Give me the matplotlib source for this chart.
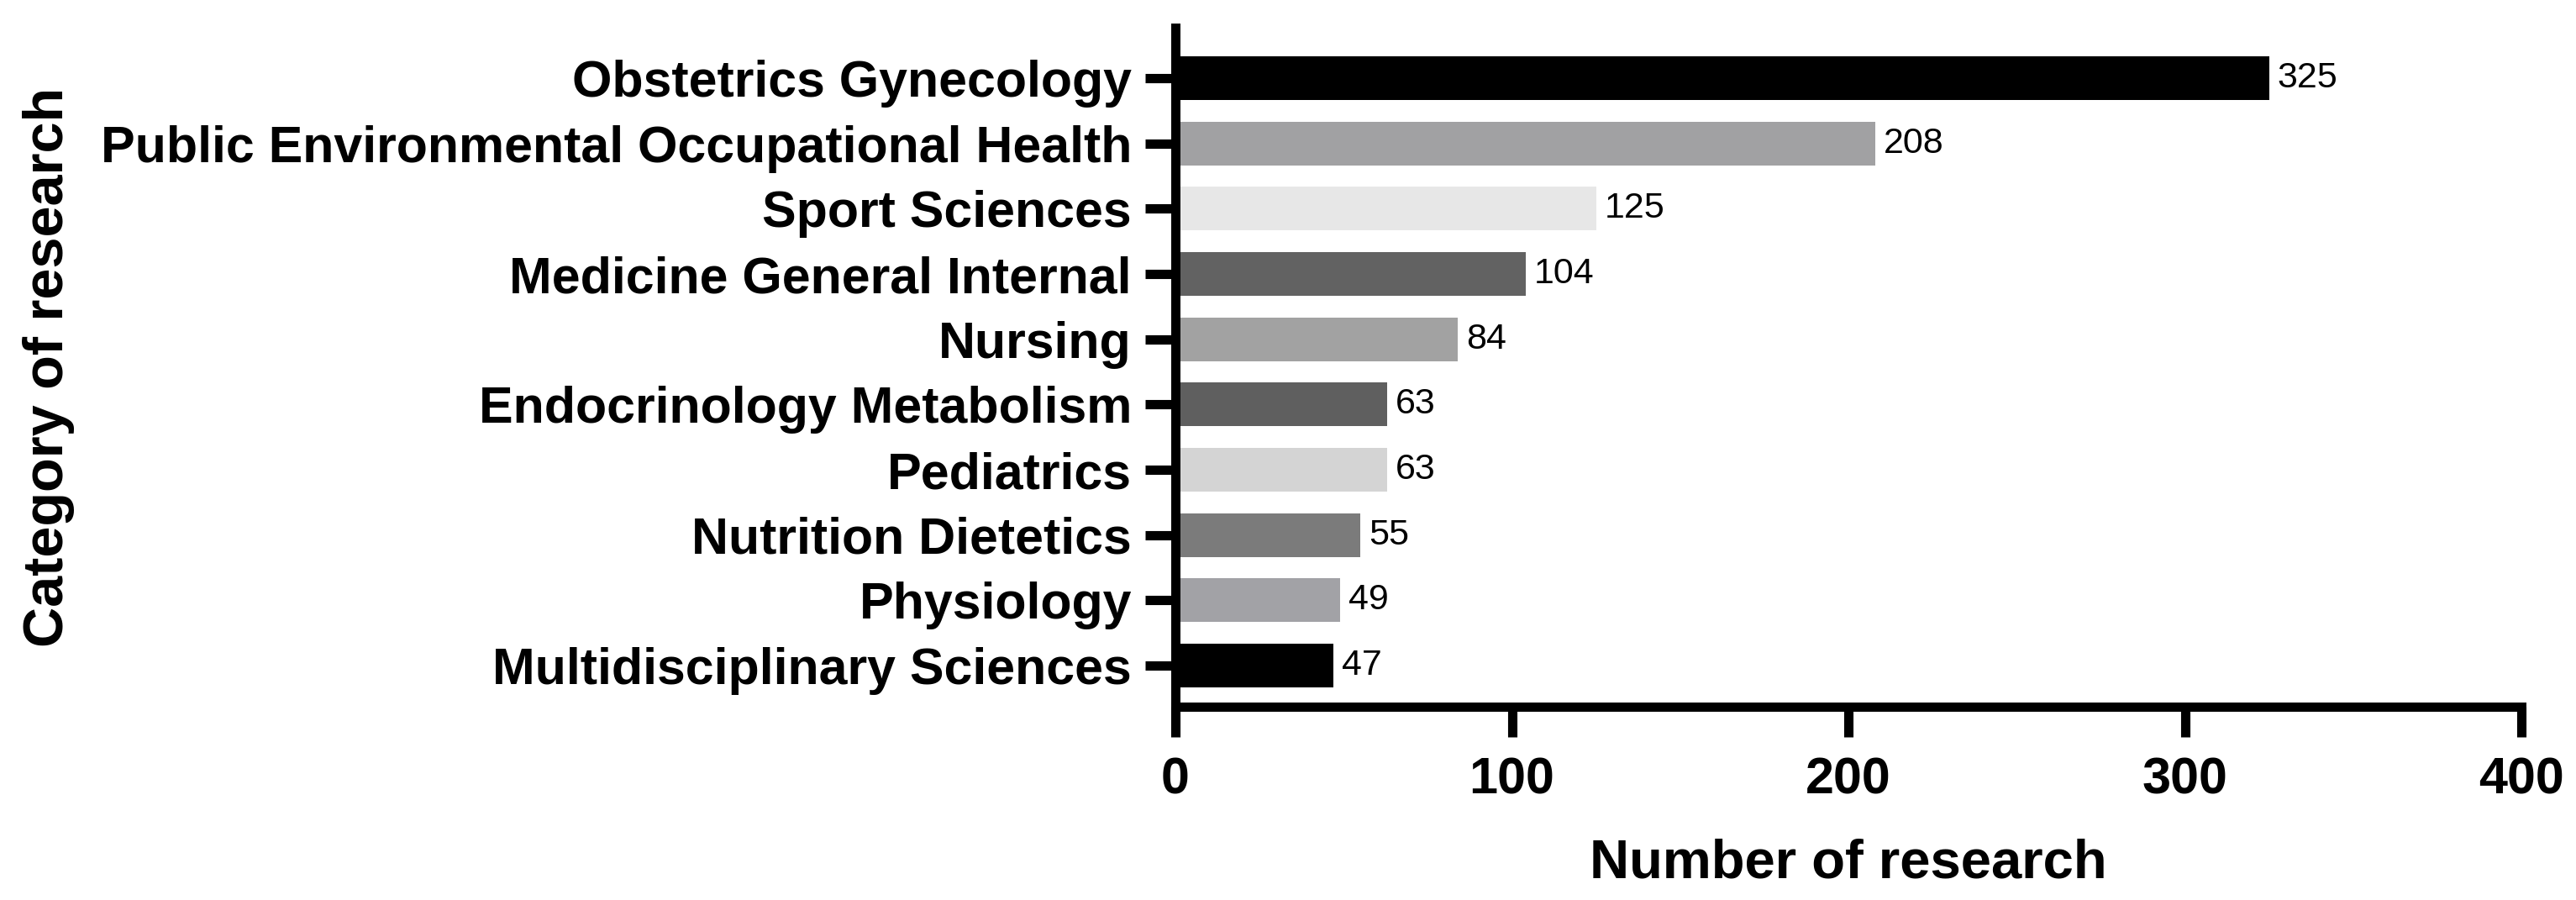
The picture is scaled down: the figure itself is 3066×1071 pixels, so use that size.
import matplotlib
matplotlib.use("Agg")
import matplotlib.pyplot as plt

categories = [
    "Obstetrics Gynecology",
    "Public Environmental Occupational Health",
    "Sport Sciences",
    "Medicine General Internal",
    "Nursing",
    "Endocrinology Metabolism",
    "Pediatrics",
    "Nutrition Dietetics",
    "Physiology",
    "Multidisciplinary Sciences",
]
counts = [325, 208, 125, 104, 84, 63, 63, 55, 49, 47]
bar_colors = ["#000000", "#a1a1a3", "#e7e7e7", "#626262", "#a2a2a2",
              "#5f5f5f", "#d4d4d4", "#7b7b7b", "#a2a2a6", "#000000"]
xticks = [0, 100, 200, 300, 400]

plt.rcParams['font.family'] = ['Liberation Sans', 'DejaVu Sans']

fig = plt.figure(figsize=(30.66, 10.71), dpi=100)
ax = fig.add_axes([0.4563, 0.2148, 0.9788 - 0.4563, 0.969 - 0.2148])

y = list(range(len(categories)))
ax.barh(y, counts, height=0.67, color=bar_colors, edgecolor='none')
for yi, v in zip(y, counts):
    ax.text(v + 2.5, yi, str(v), va='center', ha='left', fontsize=31, color='black')

ax.set_xlim(0, 400)
ax.set_ylim(9.63, -0.77)
ax.set_xticks(xticks)
ax.set_yticks(y)
ax.set_yticklabels(categories, fontsize=43.8, fontweight='bold')
ax.set_xticklabels([str(t) for t in xticks], fontsize=44, fontweight='bold')

for s in ['top', 'right']:
    ax.spines[s].set_visible(False)
for s in ['left', 'bottom']:
    ax.spines[s].set_linewidth(7.9)
    ax.spines[s].set_capstyle('projecting')

ax.tick_params(axis='x', length=26, width=8, pad=17, direction='out')
ax.tick_params(axis='y', length=26, width=8, pad=11.5, direction='out')

ax.set_xlabel("Number of research", fontsize=47, fontweight='bold', labelpad=29)
ax.set_ylabel("Category of research", fontsize=48, fontweight='bold', labelpad=22)

fig.savefig("out.png", dpi=100, facecolor='white')
